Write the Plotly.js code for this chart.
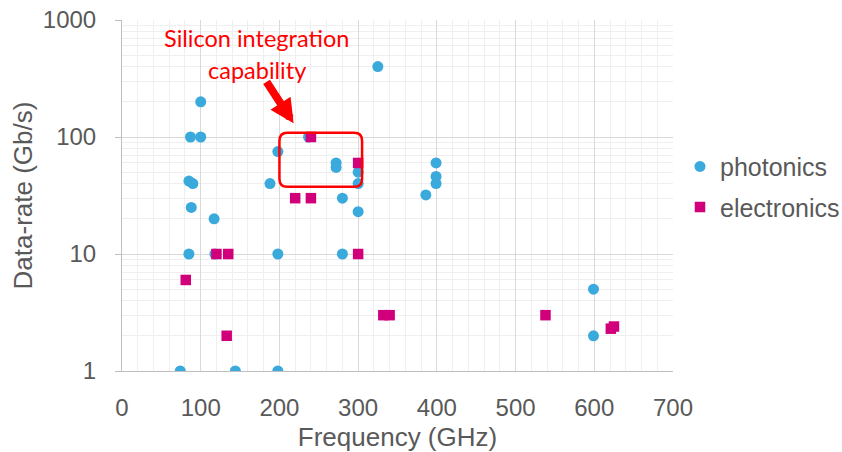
<!DOCTYPE html>
<html><head><meta charset="utf-8">
<script src="https://cdn.plot.ly/plotly-3.0.1.min.js"></script>
<style>html,body{margin:0;padding:0;background:#fff}#chart{width:842px;height:452px}</style>
</head><body><div id="chart"></div>
<script>
const photonicsFreq = [325,100,87,100,237,198,272,272,300,300,85,90,188,280,88,117,85,118,198,280,300,74,144,198,399,399,399,386,599,599];
const photonicsRate = [400,200,100,100,100,75,60,55,50,40,42,40,40,30,25,20,10,10,10,10,23,1,1,1,60,46,40,32,5,2];
const electronicsFreq = [240,300,220,240,120,135,81,133,300,332,340,538,621,625];
const electronicsRate = [100,60,30,30,10,10,6,2,10,3,3,3,2.3,2.4];
const seriesNames = ['photonics','electronics'];
const xTickVals = [0,100,200,300,400,500,600,700];
const yTickVals = [1,10,100,1000];
const yTickText = ['1','10','100','1000'];
const calloutLines = ['Silicon integration','capability'];

const grey = '#595959';
const font = 'Liberation Sans, Arial, sans-serif';

const traces = [
  {type:'scatter', mode:'markers', name:seriesNames[0], legendgroup:'a',
   x:photonicsFreq, y:photonicsRate,
   marker:{symbol:'circle', size:11, color:'#3aa9dc'}},
  {type:'scatter', mode:'markers', name:seriesNames[1], legendgroup:'b',
   x:electronicsFreq, y:electronicsRate,
   marker:{symbol:'square', size:10.5, color:'#d1007a'}}
];

const layout = {
  width:842, height:452,
  margin:{l:122, r:169, t:20, b:81, autoexpand:false},
  paper_bgcolor:'#fff', plot_bgcolor:'#fff',
  font:{family:font, color:grey},
  showlegend:true,
  legend:{x:1.0127, y:0.525, xanchor:'left', yanchor:'middle',
          font:{size:25, color:grey, family:font}, tracegroupgap:5,
          traceorder:'grouped', bgcolor:'rgba(0,0,0,0)'},
  xaxis:{range:[0,700], tickvals:xTickVals, showgrid:true, gridcolor:'#d9d9d9', gridwidth:1,
         minor:{dtick:20, showgrid:true, gridcolor:'#efefef', gridwidth:1},
         zeroline:false, showline:true, linecolor:'#bfbfbf', linewidth:1,
         ticks:'', ticklabelstandoff:15,
         tickfont:{size:24, color:grey, family:font},
         title:{text:'Frequency (GHz)', font:{size:26, color:grey, family:font}, standoff:10}},
  yaxis:{type:'log', range:[0,3], tickvals:yTickVals, ticktext:yTickText,
         showgrid:true, gridcolor:'#d9d9d9', gridwidth:1,
         minor:{dtick:'D1', showgrid:true, gridcolor:'#efefef', gridwidth:1},
         zeroline:false, showline:true, linecolor:'#bfbfbf', linewidth:1,
         ticks:'outside', ticklen:6, tickcolor:'#bfbfbf', ticklabelstandoff:14,
         tickfont:{size:24, color:grey, family:font},
         title:{text:'Data-rate (Gb/s)', font:{size:26, color:grey, family:font}, standoff:2}},
  shapes:[
    {type:'path', xref:'x', yref:'y', line:{color:'#ff0000', width:2.5}, fillcolor:'rgba(0,0,0,0)',
     path:'M 210,108.7 L 295,108.7 Q 305,108.7 305,92.5 L 305,44 Q 305,37.5 295,37.5 L 210,37.5 Q 200,37.5 200,44 L 200,92.5 Q 200,108.7 210,108.7 Z'}
  ],
  annotations:[
    {xref:'x', yref:'y', x:170.5, y:2.846, text:calloutLines[0], showarrow:false,
     font:{family:'Lato, sans-serif', size:23.5, color:'#ff0000'}, xanchor:'center', yanchor:'middle'},
    {xref:'x', yref:'y', x:171.7, y:2.572, text:calloutLines[1], showarrow:false,
     font:{family:'Lato, sans-serif', size:23.5, color:'#ff0000'}, xanchor:'center', yanchor:'middle'},
    {xref:'x', yref:'y', x:218, y:2.117, text:'', showarrow:true, arrowhead:2,
     arrowwidth:8, arrowsize:0.6, arrowcolor:'#ff0000', ax:-28, ay:-43, standoff:0}
  ]
};

Plotly.newPlot('chart', traces, layout, {displayModeBar:false, staticPlot:true});
</script>
</body></html>
